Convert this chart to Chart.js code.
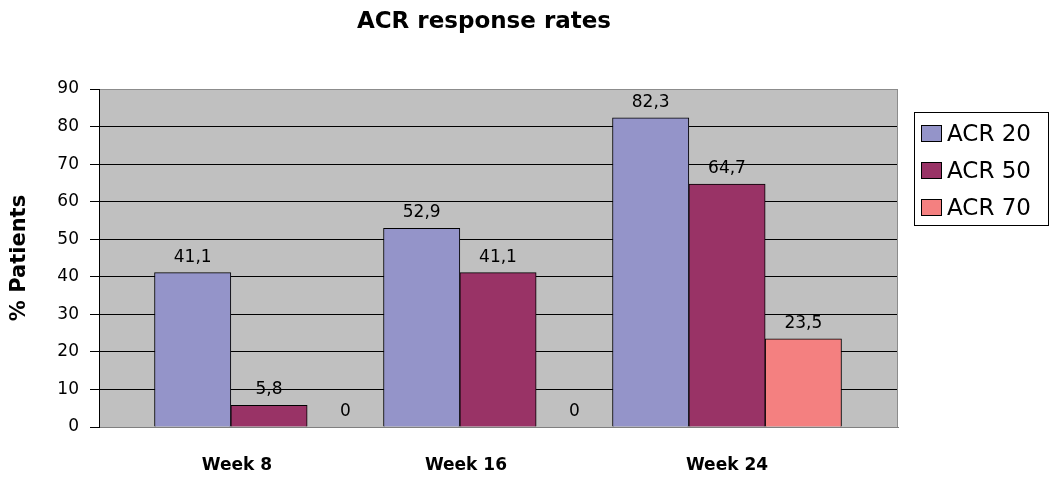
<!DOCTYPE html>
<html>
<head>
<meta charset="utf-8">
<script src="https://cdn.jsdelivr.net/npm/chart.js@4.4.1/dist/chart.umd.min.js"></script>
<style>
  body { margin: 0; background: #fff; }
  .wrap { width: 1051px; height: 483px; position: relative; }
</style>
</head>
<body>
<div class="wrap"><canvas id="acrChart"></canvas></div>
<script>
const weeks = ['Week 8', 'Week 16', 'Week 24']
const seriesNames = ['ACR 20', 'ACR 50', 'ACR 70']
const acr20 = [41.1, 52.9, 82.3]
const acr50 = [5.8, 41.1, 64.7]
const acr70 = [0, 0, 23.5]
const yTicks = [0, 10, 20, 30, 40, 50, 60, 70, 80, 90]
const colors = ['#9494C9', '#993366', '#F48080']

Chart.defaults.font.family = 'DejaVu Sans'
Chart.defaults.color = '#000'

const ctx = document.getElementById('acrChart').getContext('2d')

// grey plot area + border, like the old excel look
const plotBg = {
  id: 'plotBg',
  beforeDraw(chart) {
    const { ctx, chartArea: a } = chart
    ctx.save()
    ctx.fillStyle = '#C0C0C0'
    ctx.fillRect(a.left, a.top, a.right - a.left, a.bottom - a.top)
    ctx.restore()
  },
  afterDraw(chart) {
    const { ctx, chartArea: a } = chart
    ctx.save()
    ctx.strokeStyle = '#8C8C8C'
    ctx.lineWidth = 1
    ctx.beginPath()
    ctx.moveTo(Math.round(a.right) - 0.5, a.top)
    ctx.lineTo(Math.round(a.right) - 0.5, a.bottom)
    ctx.stroke()
    ctx.restore()
  }
}

// value labels above every bar, decimal comma
const valueLabels = {
  id: 'valueLabels',
  afterDatasetsDraw(chart) {
    const { ctx } = chart
    ctx.save()
    ctx.font = '17px "DejaVu Sans"'
    ctx.fillStyle = '#000'
    ctx.textAlign = 'center'
    ctx.textBaseline = 'alphabetic'
    chart.data.datasets.forEach((ds, di) => {
      chart.getDatasetMeta(di).data.forEach((bar, i) => {
        const v = ds.data[i].y
        ctx.fillText(String(v).replace('.', ','), bar.x, bar.y - 11)
      })
    })
    ctx.restore()
  }
}

// title and boxed legend
const titleLegend = {
  id: 'titleLegend',
  afterDraw(chart) {
    const { ctx } = chart
    ctx.save()
    ctx.fillStyle = '#000'
    ctx.textAlign = 'center'
    ctx.font = 'bold 23px "DejaVu Sans"'
    ctx.fillText('ACR response rates', 484, 28)

    ctx.fillStyle = '#fff'
    ctx.fillRect(914, 112, 135, 114)
    ctx.strokeStyle = '#000'
    ctx.lineWidth = 1
    ctx.strokeRect(914.5, 112.5, 134, 113)

    ctx.textAlign = 'left'
    ctx.font = '23px "DejaVu Sans"'
    chart.data.datasets.forEach((ds, i) => {
      const y = 125 + i * 37
      ctx.fillStyle = ds.backgroundColor
      ctx.fillRect(921.5, y + 0.5, 20, 16)
      ctx.strokeRect(921.5, y + 0.5, 20, 16)
      ctx.fillStyle = '#000'
      ctx.fillText(ds.label, 947, y + 16)
    })
    ctx.restore()
  }
}

new Chart(ctx, {
  type: 'bar',
  data: {
    datasets: [acr20, acr50, acr70].map((vals, k) => ({
      label: seriesNames[k],
      data: vals.map((v, i) => ({ x: i, y: v })),
      backgroundColor: colors[k],
      borderColor: '#000',
      borderWidth: 1
    }))
  },
  options: {
    responsive: true,
    maintainAspectRatio: false,
    animation: false,
    layout: { padding: { top: 89, right: 153, bottom: 0, left: 0 } },
    datasets: { bar: { categoryPercentage: 1, barPercentage: 1 } },
    plugins: {
      legend: { display: false },
      title: { display: false },
      tooltip: { enabled: false }
    },
    scales: {
      x: {
        type: 'linear',
        bounds: 'data',
        offset: false,
        min: -0.7424,
        max: 2.7467,
        // excel put the first two labels a bit left of the group centre
        afterBuildTicks: (scale) => {
          scale.ticks = weeks.map((w, i) => ({ value: i < 2 ? i - 0.14 : i }))
        },
        afterFit: (scale) => { scale.height = 56 },
        grid: { display: false, drawTicks: false, offset: false },
        border: { display: true, color: '#808080' },
        ticks: {
          autoSkip: false,
          maxRotation: 0,
          padding: 28,
          font: { size: 17, weight: 'bold' },
          callback: (v, i) => weeks[i]
        }
      },
      y: {
        min: 0,
        max: 90,
        afterBuildTicks: (scale) => { scale.ticks = yTicks.map((v) => ({ value: v })) },
        afterFit: (scale) => { scale.width = 99 },
        grid: {
          color: (c) => (c.tick && (c.tick.value === 0 || c.tick.value === 90)) ? '#8C8C8C' : '#000',
          tickColor: '#000',
          tickLength: 9
        },
        border: { display: true, color: '#000' },
        ticks: { padding: 11, font: { size: 17 } },
        title: {
          display: true,
          text: '% Patients',
          font: { size: 21, weight: 'bold' },
          padding: { top: 7, bottom: 0 }
        }
      }
    }
  },
  plugins: [plotBg, valueLabels, titleLegend]
})
</script>
</body>
</html>
